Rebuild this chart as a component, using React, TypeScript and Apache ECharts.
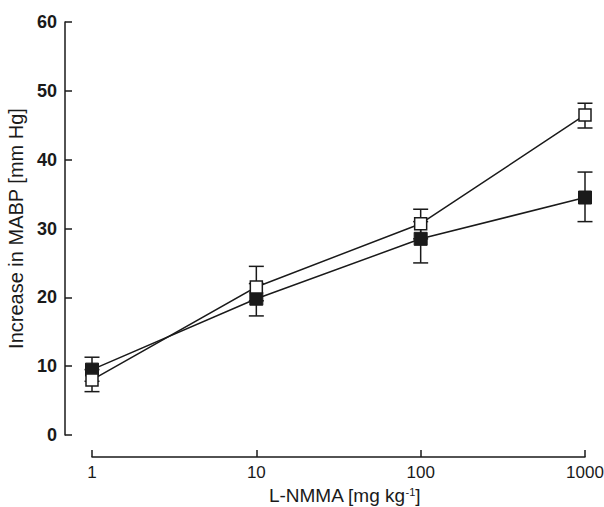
import React, { useEffect, useRef } from "react";
import * as echarts from "echarts";

const doses = [1, 10, 100, 1000];
const filledMean = [9.5, 19.8, 28.5, 34.5];
const filledLow = [7.8, 17.3, 25.0, 31.0];
const filledHigh = [11.3, 22.0, 31.0, 38.2];
const openMean = [8.0, 21.5, 30.7, 46.5];
const openLow = [6.3, 19.5, 28.5, 44.6];
const openHigh = [9.5, 24.5, 32.8, 48.2];
const yTicks = [0, 10, 20, 30, 40, 50, 60];

const FONT = "'Liberation Sans Narrow', 'Liberation Sans', Arial, sans-serif";
const FONT2 = "'Liberation Sans', Arial, sans-serif";

function errorSeries(low: number[], high: number[]) {
  return {
    type: "custom",
    z: 1,
    silent: true,
    data: doses.map((d, i) => [d, low[i], high[i]]),
    renderItem: (params: any, api: any) => {
      const x = api.value(0);
      const lo = api.coord([x, api.value(1)]);
      const hi = api.coord([x, api.value(2)]);
      const hw = 7.5;
      const style = { stroke: "#1a1a1a", lineWidth: 1.5 };
      return {
        type: "group",
        children: [
          { type: "line", shape: { x1: lo[0], y1: lo[1], x2: hi[0], y2: hi[1] }, style },
          { type: "line", shape: { x1: lo[0] - hw, y1: lo[1], x2: lo[0] + hw, y2: lo[1] }, style },
          { type: "line", shape: { x1: hi[0] - hw, y1: hi[1], x2: hi[0] + hw, y2: hi[1] }, style },
        ],
      };
    },
  };
}

export default function App() {
  const ref = useRef<HTMLDivElement>(null);
  useEffect(() => {
    const chart = echarts.init(ref.current!, null, { renderer: "svg", width: 604, height: 507 });
    chart.setOption({
      animation: false,
      backgroundColor: "#ffffff",
      grid: { left: 92, right: 19, top: 22, bottom: 72, outerBoundsMode: "none", containLabel: false },
      xAxis: {
        type: "log",
        logBase: 10,
        min: 1,
        max: 1000,
        offset: 22,
        axisLine: { show: true, onZero: false, lineStyle: { color: "#1a1a1a", width: 1.5 } },
        axisTick: { show: true, inside: true, length: 7, lineStyle: { color: "#1a1a1a", width: 1.5 } },
        minorTick: { show: false },
        splitLine: { show: false },
        axisLabel: {
          color: "#1a1a1a",
          fontSize: 17,
          fontFamily: FONT2,
          margin: 7,
          formatter: (v: number) => String(Math.round(v)),
        },
        name: "{n|L-NMMA [mg kg}{s|-1}{n|]}",
        nameLocation: "middle",
        nameGap: 29,
        nameTextStyle: {
          padding: [0, 0, 0, 12],
          rich: {
            n: { fontSize: 19, lineHeight: 19, color: "#1a1a1a", fontFamily: FONT2 },
            s: { fontSize: 11, lineHeight: 19, color: "#1a1a1a", verticalAlign: "top", padding: [0, 0, 5, 0], fontFamily: FONT2 },
          },
        },
      },
      yAxis: {
        type: "value",
        min: yTicks[0],
        max: yTicks[yTicks.length - 1],
        interval: 10,
        offset: 27,
        axisLine: { show: true, lineStyle: { color: "#1a1a1a", width: 1.5 } },
        axisTick: { show: true, inside: true, length: 7, lineStyle: { color: "#1a1a1a", width: 1.5 } },
        splitLine: { show: false },
        axisLabel: { color: "#1a1a1a", fontSize: 18, fontWeight: "bold", fontFamily: FONT, margin: 8 },
        name: "Increase in MABP [mm Hg]",
        nameLocation: "middle",
        nameGap: 31,
        nameTextStyle: { fontSize: 20, color: "#1a1a1a", fontFamily: FONT },
      },
      series: [
        errorSeries(filledLow, filledHigh),
        errorSeries(openLow, openHigh),
        {
          type: "line",
          z: 3,
          data: doses.map((d, i) => [d, filledMean[i]]),
          symbol: "rect",
          symbolSize: 13,
          itemStyle: { color: "#1a1a1a", borderColor: "#1a1a1a", borderWidth: 1 },
          lineStyle: { color: "#1a1a1a", width: 1.5 },
        },
        {
          type: "line",
          z: 4,
          data: doses.map((d, i) => [d, openMean[i]]),
          symbol: "rect",
          symbolSize: 12,
          showAllSymbol: true,
          itemStyle: { color: "#ffffff", borderColor: "#1a1a1a", borderWidth: 1.5 },
          lineStyle: { color: "#1a1a1a", width: 1.5 },
        },
      ],
    });
    return () => chart.dispose();
  }, []);
  return <div ref={ref} style={{ position: "absolute", left: 0, top: 0, width: 604, height: 507 }} />;
}
